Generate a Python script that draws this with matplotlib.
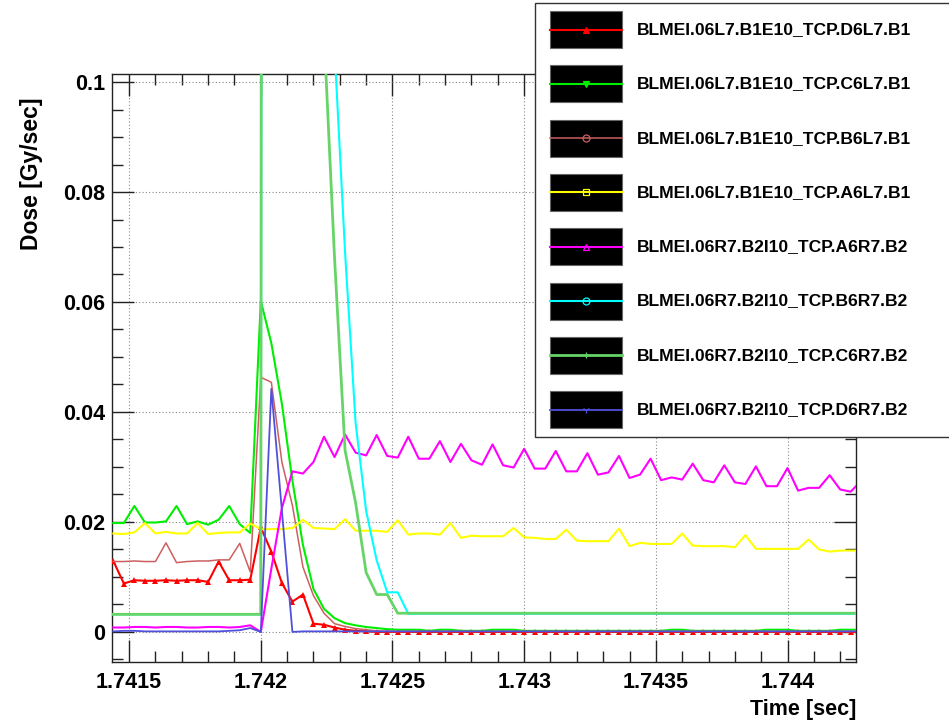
import matplotlib
matplotlib.use('Agg')
import matplotlib.pyplot as plt
from matplotlib.patches import Rectangle
from matplotlib.lines import Line2D
from matplotlib.ticker import FixedLocator, FixedFormatter, MultipleLocator

# sample times [sec], one BLM reading every 40 us
time_sec = [
    1.74144, 1.74148, 1.74152, 1.74156, 1.74160, 1.74164, 1.74168, 1.74172,
    1.74176, 1.74180, 1.74184, 1.74188, 1.74192, 1.74196, 1.74200, 1.74204,
    1.74208, 1.74212, 1.74216, 1.74220, 1.74224, 1.74228, 1.74232, 1.74236,
    1.74240, 1.74244, 1.74248, 1.74252, 1.74256, 1.74260, 1.74264, 1.74268,
    1.74272, 1.74276, 1.74280, 1.74284, 1.74288, 1.74292, 1.74296, 1.74300,
    1.74304, 1.74308, 1.74312, 1.74316, 1.74320, 1.74324, 1.74328, 1.74332,
    1.74336, 1.74340, 1.74344, 1.74348, 1.74352, 1.74356, 1.74360, 1.74364,
    1.74368, 1.74372, 1.74376, 1.74380, 1.74384, 1.74388, 1.74392, 1.74396,
    1.74400, 1.74404, 1.74408, 1.74412, 1.74416, 1.74420, 1.74424, 1.74428,
]

# dose [Gy/sec]
dose_d6l7_b1 = [
    0.0129, 0.0088, 0.0094, 0.0093, 0.0093, 0.0094, 0.0093, 0.0094,
    0.0094, 0.0091, 0.0128, 0.0094, 0.0094, 0.0095, 0.0190, 0.0146,
    0.0089, 0.0055, 0.0068, 0.0015, 0.0013, 0.0008, 0.0004, 0.0002,
    0.0001, 0.0, 0.0, 0.0, 0.0, 0.0, 0.0, 0.0,
    0.0, 0.0, 0.0, 0.0, 0.0, 0.0, 0.0, 0.0,
    0.0, 0.0, 0.0, 0.0, 0.0, 0.0, 0.0, 0.0,
    0.0, 0.0, 0.0, 0.0, 0.0, 0.0, 0.0, 0.0,
    0.0, 0.0, 0.0, 0.0, 0.0, 0.0, 0.0, 0.0,
    0.0, 0.0, 0.0, 0.0, 0.0, 0.0, 0.0, 0.0,
]
dose_c6l7_b1 = [
    0.0198, 0.0198, 0.0229, 0.0199, 0.0199, 0.0201, 0.0229, 0.0196,
    0.0201, 0.0195, 0.0204, 0.0229, 0.0196, 0.0180, 0.0602, 0.0525,
    0.0415, 0.0275, 0.0158, 0.0078, 0.0042, 0.0025, 0.0016, 0.0012,
    0.0009, 0.0007, 0.0005, 0.0004, 0.0004, 0.0004, 0.0002, 0.0004,
    0.0004, 0.0002, 0.0002, 0.0002, 0.0004, 0.0004, 0.0004, 0.0002,
    0.0002, 0.0002, 0.0002, 0.0002, 0.0002, 0.0002, 0.0002, 0.0002,
    0.0002, 0.0002, 0.0002, 0.0002, 0.0002, 0.0004, 0.0004, 0.0002,
    0.0002, 0.0002, 0.0002, 0.0002, 0.0002, 0.0002, 0.0004, 0.0004,
    0.0004, 0.0002, 0.0002, 0.0002, 0.0002, 0.0004, 0.0004, 0.0004,
]
dose_b6l7_b1 = [
    0.0128, 0.0128, 0.0129, 0.0128, 0.0128, 0.0162, 0.0126, 0.0128,
    0.0129, 0.0129, 0.0131, 0.0131, 0.0161, 0.0109, 0.0463, 0.0454,
    0.0309, 0.0230, 0.0118, 0.0066, 0.0034, 0.0015, 0.0010, 0.0006,
    0.0004, 0.0002, 0.0001, 0.0001, 0.0001, 0.0001, 0.0001, 0.0001,
    0.0001, 0.0001, 0.0001, 0.0001, 0.0001, 0.0001, 0.0001, 0.0001,
    0.0001, 0.0001, 0.0001, 0.0001, 0.0001, 0.0001, 0.0001, 0.0001,
    0.0001, 0.0001, 0.0001, 0.0001, 0.0001, 0.0001, 0.0001, 0.0001,
    0.0001, 0.0001, 0.0001, 0.0001, 0.0001, 0.0001, 0.0001, 0.0001,
    0.0001, 0.0001, 0.0001, 0.0001, 0.0001, 0.0001, 0.0001, 0.0001,
]
dose_a6l7_b1 = [
    0.0179, 0.0178, 0.0181, 0.0198, 0.0179, 0.0182, 0.0179, 0.0179,
    0.0198, 0.0178, 0.0180, 0.0181, 0.0181, 0.0197, 0.0187, 0.0187,
    0.0187, 0.0189, 0.0204, 0.0189, 0.0188, 0.0187, 0.0205, 0.0184,
    0.0184, 0.0184, 0.0182, 0.0203, 0.0177, 0.0179, 0.0179, 0.0177,
    0.0198, 0.0171, 0.0175, 0.0174, 0.0174, 0.0174, 0.0189, 0.0172,
    0.0171, 0.0169, 0.0169, 0.0186, 0.0166, 0.0165, 0.0165, 0.0165,
    0.0188, 0.0156, 0.0162, 0.0160, 0.0160, 0.0160, 0.0179, 0.0157,
    0.0156, 0.0156, 0.0156, 0.0154, 0.0176, 0.0151, 0.0151, 0.0151,
    0.0151, 0.0151, 0.0168, 0.0150, 0.0146, 0.0148, 0.0148, 0.0148,
]
dose_a6r7_b2 = [
    0.0008, 0.0008, 0.0009, 0.0009, 0.0008, 0.0009, 0.0009, 0.0008,
    0.0008, 0.0009, 0.0009, 0.0008, 0.0009, 0.0012, 0.0000, 0.0115,
    0.0225, 0.0292, 0.0288, 0.0309, 0.0355, 0.0318, 0.0359, 0.0326,
    0.0321, 0.0358, 0.0320, 0.0317, 0.0355, 0.0315, 0.0315, 0.0347,
    0.0309, 0.0342, 0.0312, 0.0304, 0.0341, 0.0303, 0.0299, 0.0333,
    0.0297, 0.0297, 0.0329, 0.0292, 0.0292, 0.0325, 0.0286, 0.0290,
    0.0320, 0.0280, 0.0286, 0.0315, 0.0276, 0.0281, 0.0277, 0.0306,
    0.0276, 0.0272, 0.0303, 0.0272, 0.0269, 0.0301, 0.0265, 0.0265,
    0.0298, 0.0257, 0.0262, 0.0262, 0.0285, 0.0259, 0.0255, 0.0275,
]
dose_b6r7_b2 = [
    0.0032, 0.0032, 0.0032, 0.0032, 0.0032, 0.0032, 0.0032, 0.0032,
    0.0032, 0.0032, 0.0032, 0.0032, 0.0032, 0.0032, 0.0032, 2.0,
    1.5, 0.9, 0.5, 0.3, 0.18, 0.106, 0.069, 0.038,
    0.022, 0.013, 0.0072, 0.0072, 0.0033, 0.0033, 0.0033, 0.0033,
    0.0033, 0.0033, 0.0033, 0.0033, 0.0033, 0.0033, 0.0033, 0.0033,
    0.0033, 0.0033, 0.0033, 0.0033, 0.0033, 0.0033, 0.0033, 0.0033,
    0.0033, 0.0033, 0.0033, 0.0033, 0.0033, 0.0033, 0.0033, 0.0033,
    0.0033, 0.0033, 0.0033, 0.0033, 0.0033, 0.0033, 0.0033, 0.0033,
    0.0033, 0.0033, 0.0033, 0.0033, 0.0033, 0.0033, 0.0033, 0.0033,
]
dose_c6r7_b2 = [
    0.0032, 0.0032, 0.0032, 0.0032, 0.0032, 0.0032, 0.0032, 0.0032,
    0.0032, 0.0032, 0.0032, 0.0032, 0.0032, 0.0032, 0.0032, 2.5,
    1.2, 0.6, 0.35, 0.2, 0.109, 0.068, 0.033, 0.0235,
    0.0108, 0.0068, 0.0068, 0.0034, 0.0034, 0.0034, 0.0034, 0.0034,
    0.0034, 0.0034, 0.0034, 0.0034, 0.0034, 0.0034, 0.0034, 0.0034,
    0.0034, 0.0034, 0.0034, 0.0034, 0.0034, 0.0034, 0.0034, 0.0034,
    0.0034, 0.0034, 0.0034, 0.0034, 0.0034, 0.0034, 0.0034, 0.0034,
    0.0034, 0.0034, 0.0034, 0.0034, 0.0034, 0.0034, 0.0034, 0.0034,
    0.0034, 0.0034, 0.0034, 0.0034, 0.0034, 0.0034, 0.0034, 0.0034,
]
dose_d6r7_b2 = [
    0.0001, 0.0002, 0.0002, 0.0001, 0.0001, 0.0001, 0.0001, 0.0001,
    0.0001, 0.0001, 0.0001, 0.0002, 0.0003, 0.0007, 0.0000, 0.0442,
    0.0221, 0.0000, 0.0001, 0.0001, 0.0001, 0.0001, 0.0001, 0.0001,
    0.0001, 0.0001, 0.0001, 0.0001, 0.0001, 0.0001, 0.0001, 0.0001,
    0.0001, 0.0001, 0.0001, 0.0001, 0.0001, 0.0001, 0.0001, 0.0001,
    0.0001, 0.0001, 0.0001, 0.0001, 0.0001, 0.0001, 0.0001, 0.0001,
    0.0001, 0.0001, 0.0001, 0.0001, 0.0001, 0.0001, 0.0001, 0.0001,
    0.0001, 0.0001, 0.0001, 0.0001, 0.0001, 0.0001, 0.0001, 0.0001,
    0.0001, 0.0001, 0.0001, 0.0001, 0.0001, 0.0001, 0.0001, 0.0001,
]

series_names = [
    'BLMEI.06L7.B1E10_TCP.D6L7.B1',
    'BLMEI.06L7.B1E10_TCP.C6L7.B1',
    'BLMEI.06L7.B1E10_TCP.B6L7.B1',
    'BLMEI.06L7.B1E10_TCP.A6L7.B1',
    'BLMEI.06R7.B2I10_TCP.A6R7.B2',
    'BLMEI.06R7.B2I10_TCP.B6R7.B2',
    'BLMEI.06R7.B2I10_TCP.C6R7.B2',
    'BLMEI.06R7.B2I10_TCP.D6R7.B2',
]
series_values = [dose_d6l7_b1, dose_c6l7_b1, dose_b6l7_b1, dose_a6l7_b1,
                 dose_a6r7_b2, dose_b6r7_b2, dose_c6r7_b2, dose_d6r7_b2]

x_tick_values = [1.7415, 1.742, 1.7425, 1.743, 1.7435, 1.744]
x_tick_labels = ['1.7415', '1.742', '1.7425', '1.743', '1.7435', '1.744']
y_tick_values = [0, 0.02, 0.04, 0.06, 0.08, 0.1]
y_tick_labels = ['0', '0.02', '0.04', '0.06', '0.08', '0.1']

# styles (ROOT-like)
colors = ['#ff0000', '#00ee00', '#cc5f5f', '#ffff00',
          '#ff00ff', '#00ffff', '#66d466', '#5050dd']
widths = [1.5, 1.5, 1.1, 1.5, 1.5, 1.5, 2.0, 1.3]
legend_markers = ['^', 'v', 'o', 's', '^', 'o', '+', '1']
legend_filled = [True, True, False, False, False, False, True, True]

plt.rcParams['font.family'] = ['Liberation Sans', 'DejaVu Sans']
plt.rcParams['font.weight'] = 'bold'

W, H = 949, 724
fig = plt.figure(figsize=(W / 100, H / 100), dpi=100, facecolor='white')

ax_l, ax_r, ax_t, ax_b = 112, 856, 74, 662
ax = fig.add_axes([ax_l / W, 1 - ax_b / H, (ax_r - ax_l) / W, (ax_b - ax_t) / H])

for i, vals in enumerate(series_values):
    if i == 0:
        ax.plot(time_sec, vals, color=colors[i], lw=widths[i], marker='^',
                ms=4.2, markeredgewidth=0, zorder=3 + i)
    else:
        ax.plot(time_sec, vals, color=colors[i], lw=widths[i], zorder=3 + i)

ax.set_xlim(1.741435, 1.74426)
ax.set_ylim(-0.00547, 0.10146)

ax.xaxis.set_major_locator(FixedLocator(x_tick_values))
ax.xaxis.set_major_formatter(FixedFormatter(x_tick_labels))
ax.xaxis.set_minor_locator(MultipleLocator(0.0001))
ax.yaxis.set_major_locator(FixedLocator(y_tick_values))
ax.yaxis.set_major_formatter(FixedFormatter(y_tick_labels))
ax.yaxis.set_minor_locator(MultipleLocator(0.005))

ax.tick_params(which='both', direction='in', top=True, right=True, width=1, color='#222222')
ax.tick_params(which='major', length=15.5)
ax.tick_params(which='minor', length=7.8)
ax.tick_params(axis='x', which='major', labelsize=15.5, pad=7)
ax.tick_params(axis='y', which='major', labelsize=15.5, pad=5)
for lab in ax.get_xticklabels() + ax.get_yticklabels():
    lab.set_fontweight('bold')

ax.grid(True, which='major', color='#888888', linestyle=(0, (1, 2)), lw=0.8)
ax.set_axisbelow(True)
for sp in ax.spines.values():
    sp.set_color('#222222')
    sp.set_linewidth(1)

fig.text(32 / W, 1 - 98 / H, 'Dose [Gy/sec]', rotation=90, ha='center', va='top',
         fontsize=16.5, fontweight='bold')
fig.text(856 / W, 1 - 709 / H, 'Time [sec]', ha='right', va='center',
         fontsize=15.5, fontweight='bold')

# legend box drawn in pixel coordinates
lax = fig.add_axes([0, 0, 1, 1], zorder=10)
lax.set_xlim(0, W)
lax.set_ylim(H, 0)
lax.axis('off')
lax.add_patch(Rectangle((535, 3), 430, 434, facecolor='white', edgecolor='#333333', lw=1))
for i, name in enumerate(series_names):
    yc = 29.5 + i * 54.3
    lax.add_patch(Rectangle((550, yc - 18.5), 72, 37, facecolor='black',
                            edgecolor='#666666', lw=0.8))
    lax.add_line(Line2D([550, 622], [yc, yc], color=colors[i], lw=widths[i]))
    mfc = colors[i] if legend_filled[i] else 'none'
    lax.add_line(Line2D([586], [yc], marker=legend_markers[i], ms=5, color=colors[i],
                        markerfacecolor=mfc, markeredgecolor=colors[i], markeredgewidth=0.9))
    lax.text(637, yc, name, ha='left', va='center', fontsize=12.6, fontweight='bold')

fig.savefig('out.png', dpi=100, facecolor=fig.get_facecolor())
